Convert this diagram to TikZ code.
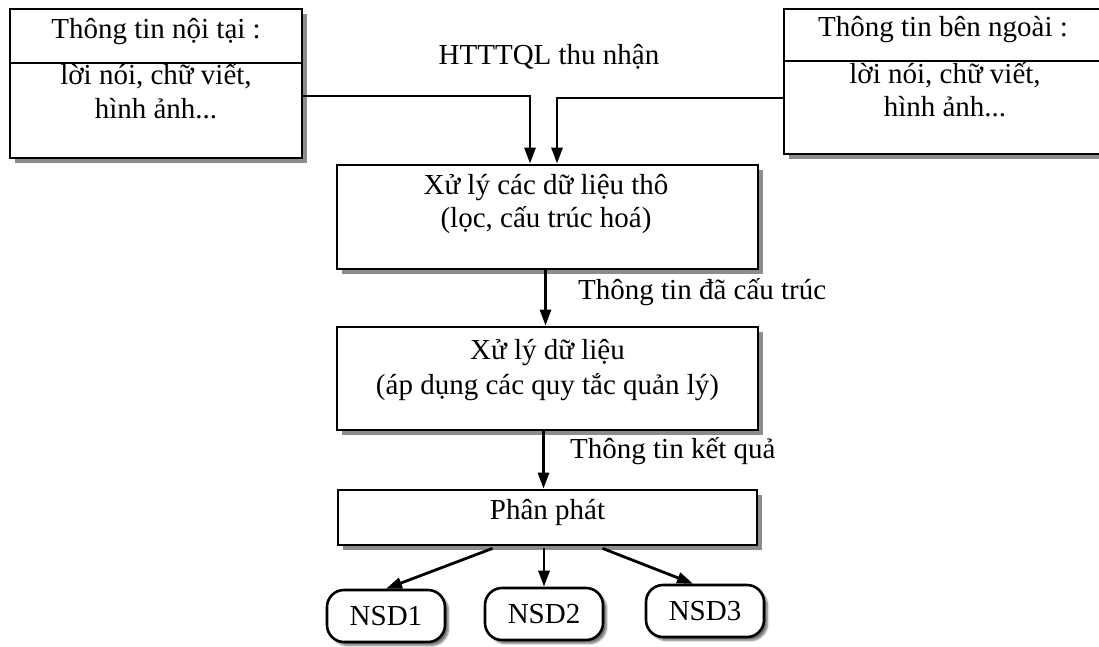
\documentclass[tikz,border=0pt]{standalone}
\usepackage{fontspec}
\setmainfont{Liberation Serif}
\usetikzlibrary{arrows.meta,shadows,shadows.blur}

\begin{document}
\begin{tikzpicture}[x=1pt,y=-1pt,
  font=\fontsize{29}{34}\selectfont,
  frame/.style={draw, line width=2.8pt, fill=white, inner sep=0pt,
    general shadow={fill=black!45, shadow xshift=4.5pt, shadow yshift=-4.5pt}},
  user/.style={draw, line width=2.6pt, fill=white, rounded corners=17pt,
    inner sep=0pt, minimum width=118pt, minimum height=52pt,
    blur shadow={shadow xshift=3.5pt, shadow yshift=-3.5pt, shadow opacity=55, shadow blur steps=6}},
  txt/.style={anchor=base, inner sep=0pt},
  conn/.style={line width=2.8pt, -{Triangle[length=16pt,width=11pt]}},
  link/.style={line width=2.6pt}
]
\useasboundingbox (0,0) rectangle (1099,646);

% source boxes
\node[frame, minimum width=292pt, minimum height=149pt] (src1) at (156,83.5) {};
\draw[link] (src1.west |- 0,63) -- (src1.east |- 0,63);
\node[txt] (src1h) at (156,38) {Thông tin nội tại :};
\node[txt] (src1a) at (156,84) {lời nói, chữ viết,};
\node[txt] (src1b) at (156,118) {hình ảnh...};

\node[frame, minimum width=326pt, minimum height=145pt] (src2) at (947,81.5) {};
\draw[link] (src2.west |- 0,61) -- (src2.east |- 0,61);
\node[txt] (src2h) at (943,36) {Thông tin bên ngoài :};
\node[txt] (src2a) at (945,83) {lời nói, chữ viết,};
\node[txt] (src2b) at (945,116) {hình ảnh...};

\node[txt] (acq) at (549,64) {HTTTQL thu nhận};

% processing chain
\node[frame, minimum width=421pt, minimum height=104pt] (raw) at (547.5,217) {};
\node[txt] (rawa) at (546,194) {Xử lý các dữ liệu thô};
\node[txt] (rawb) at (546,227) {(lọc, cấu trúc hoá)};

\node[frame, minimum width=421pt, minimum height=103pt] (proc) at (547.5,378.5) {};
\node[txt] (proca) at (547.5,359) {Xử lý dữ liệu};
\node[txt] (procb) at (547.5,394) {(áp dụng các quy tắc quản lý)};

\node[frame, minimum width=419pt, minimum height=55pt] (dist) at (547.5,517.5) {};
\node[txt] (dista) at (547.5,519) {Phân phát};

% users
\node[user] (u1) at (386,616) {NSD1};
\node[user] (u2) at (544,614) {NSD2};
\node[user] (u3) at (705,611) {NSD3};

% connectors
\coordinate (jl) at (530,96);
\coordinate (jr) at (557,98);
\draw[conn] (src1.east |- jl) -- (jl) -- (raw.north -| jl);
\draw[conn] (src2.west |- jr) -- (jr) -- (raw.north -| jr);

\draw[conn] ([xshift=-2pt]raw.south) -- ([xshift=-2pt]proc.north);
\node[anchor=base west, inner sep=0pt] (lbl1) at (578,299) {Thông tin đã cấu trúc};

\draw[conn] ([xshift=-4pt]proc.south) -- ([xshift=-4pt]dist.north);
\node[anchor=base west, inner sep=0pt] (lbl2) at (570,458) {Thông tin kết quả};

\draw[conn] ([xshift=-55pt,yshift=-2pt]dist.south) -- (u1.north);
\draw[conn] ([yshift=-2pt]dist.south -| u2.north) -- (u2.north);
\draw[conn] ([xshift=55pt,yshift=-2pt]dist.south) -- ([xshift=-12pt]u3.north);
\end{tikzpicture}
\end{document}
